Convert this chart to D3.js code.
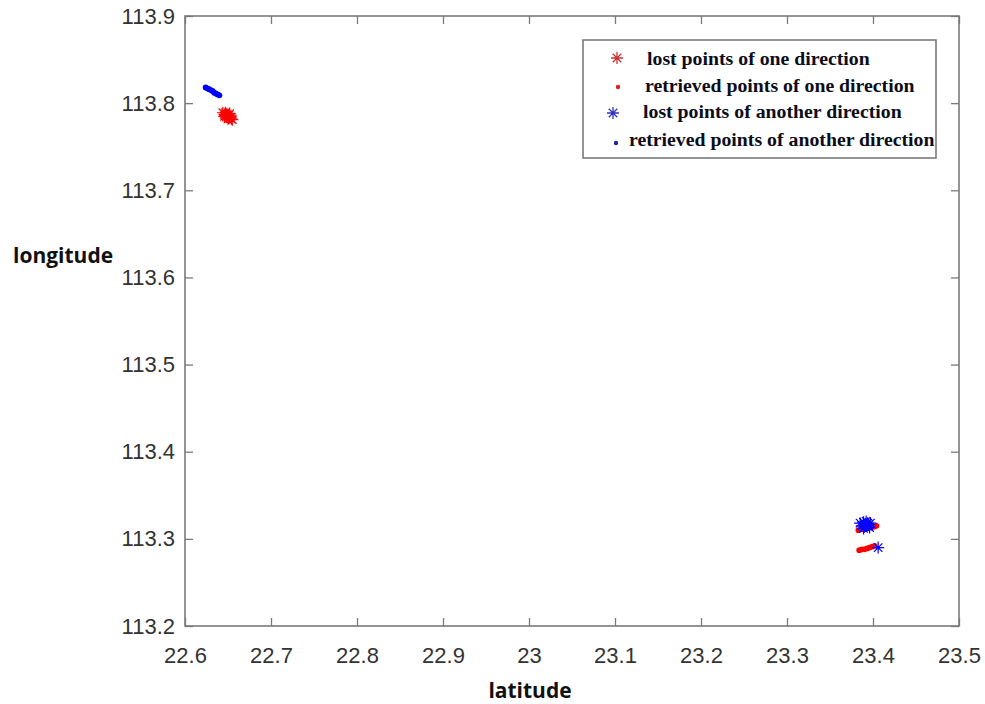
<!DOCTYPE html>
<html>
<head>
<meta charset="utf-8">
<script src="https://cdn.jsdelivr.net/npm/d3@7"></script>
<style>
  html, body { margin: 0; padding: 0; background: #fff; }
  svg { display: block; }
  .tick text { font-family: "Liberation Sans", Arial, sans-serif; font-size: 22px; fill: #333; }
  .legend-text { font-family: "Liberation Serif", "Times New Roman", serif; font-weight: bold; font-size: 19.8px; fill: #0d0d1a; }
  .axis-title { font-family: "Open Sans", sans-serif; font-weight: 700; font-size: 21px; fill: #111; }
</style>
</head>
<body>
<div id="chart"></div>
<script>
// ── data (latitude, longitude) ──────────────────────────────────────────────
const xTicks      = [22.6, 22.7, 22.8, 22.9, 23.0, 23.1, 23.2, 23.3, 23.4, 23.5];
const xTickLabels = ['22.6', '22.7', '22.8', '22.9', '23', '23.1', '23.2', '23.3', '23.4', '23.5'];
const yTicks      = [113.2, 113.3, 113.4, 113.5, 113.6, 113.7, 113.8, 113.9];
const yTickLabels = ['113.2', '113.3', '113.4', '113.5', '113.6', '113.7', '113.8', '113.9'];

// lost points of one direction (red *)
const lostOne = [
  [22.644, 113.789], [22.646, 113.787], [22.647, 113.789], [22.648, 113.786],
  [22.649, 113.787], [22.650, 113.785], [22.651, 113.786], [22.652, 113.783],
  [22.653, 113.784], [22.654, 113.782], [22.650, 113.782], [22.648, 113.784],
  [22.655, 113.781], [22.646, 113.785], [22.652, 113.788]
];
// retrieved points of one direction (red .)
const retrievedOne = [
  [22.646, 113.787], [22.649, 113.785], [22.652, 113.784],
  [23.383, 113.310], [23.386, 113.311], [23.389, 113.311], [23.392, 113.312],
  [23.395, 113.313], [23.398, 113.313], [23.401, 113.314], [23.404, 113.315],
  [23.384, 113.287], [23.387, 113.288], [23.390, 113.288], [23.393, 113.289],
  [23.396, 113.290], [23.399, 113.291], [23.402, 113.292]
];
// lost points of another direction (blue *)
const lostAnother = [
  [23.385, 113.318], [23.387, 113.315], [23.389, 113.319], [23.390, 113.314],
  [23.391, 113.317], [23.392, 113.320], [23.393, 113.315], [23.394, 113.318],
  [23.395, 113.316], [23.396, 113.313], [23.397, 113.318], [23.389, 113.312],
  [23.406, 113.290]
];
// retrieved points of another direction (blue .)
const retrievedAnother = [
  [22.624, 113.818], [22.626, 113.817], [22.628, 113.816], [22.630, 113.815],
  [22.632, 113.814], [22.634, 113.812], [22.636, 113.811], [22.638, 113.810],
  [22.640, 113.809]
];

const legendLabels = [
  'lost points of one direction',
  'retrieved points of one direction',
  'lost points of another direction',
  'retrieved points of another direction'
];

// ── layout ─────────────────────────────────────────────────────────────────
const W = 985, H = 704;
const M = { left: 185, right: 959, top: 16, bottom: 626 };
const TICK = 8;

const svg = d3.select('#chart').append('svg').attr('width', W).attr('height', H);

const x = d3.scaleLinear().domain([22.6, 23.5]).range([M.left, M.right]);
const y = d3.scaleLinear().domain([113.2, 113.9]).range([M.bottom, M.top]);

// axes
function styleAxis(g) {
  g.select('.domain').remove();
  g.selectAll('.tick line').attr('stroke', '#7a7a7a').attr('stroke-width', 1.3);
}

svg.append('g').attr('transform', `translate(0,${M.bottom})`)
  .call(d3.axisBottom(x).tickValues(xTicks).tickSize(-TICK).tickPadding(21)
    .tickFormat((d, i) => xTickLabels[i]))
  .call(styleAxis);

svg.append('g').attr('transform', `translate(0,${M.top})`)
  .call(d3.axisTop(x).tickValues(xTicks).tickSize(-TICK).tickFormat(''))
  .call(styleAxis);

svg.append('g').attr('transform', `translate(${M.left},0)`)
  .call(d3.axisLeft(y).tickValues(yTicks).tickSize(-TICK).tickPadding(10)
    .tickFormat((d, i) => yTickLabels[i]))
  .call(styleAxis);

svg.append('g').attr('transform', `translate(${M.right},0)`)
  .call(d3.axisRight(y).tickValues(yTicks).tickSize(-TICK).tickFormat(''))
  .call(styleAxis);

// box
svg.append('rect')
  .attr('x', M.left).attr('y', M.top)
  .attr('width', M.right - M.left).attr('height', M.bottom - M.top)
  .attr('fill', 'none').attr('stroke', '#7a7a7a').attr('stroke-width', 1.6);

// ── markers ────────────────────────────────────────────────────────────────
function starPath(r) {
  const d = r * Math.SQRT1_2;
  return `M${-r},0L${r},0M0,${-r}L0,${r}M${-d},${-d}L${d},${d}M${-d},${d}L${d},${-d}`;
}

const plot = svg.append('g');

function drawDots(data, color) {
  plot.append('g').selectAll('circle').data(data).enter().append('circle')
    .attr('cx', d => x(d[0])).attr('cy', d => y(d[1]))
    .attr('r', 2.9).attr('fill', color);
}
function drawStars(data, color) {
  plot.append('g').selectAll('path').data(data).enter().append('path')
    .attr('transform', d => `translate(${x(d[0])},${y(d[1])})`)
    .attr('d', starPath(6))
    .attr('fill', 'none').attr('stroke', color).attr('stroke-width', 1.2);
}

drawDots(retrievedOne, '#ff0000');
drawStars(lostOne, '#ff0000');
drawStars(lostAnother, '#0000ff');
drawDots(retrievedAnother, '#0000ff');

// ── legend ─────────────────────────────────────────────────────────────────
const lg = svg.append('g');
lg.append('rect')
  .attr('x', 583).attr('y', 40).attr('width', 353).attr('height', 118)
  .attr('fill', '#fff').attr('stroke', '#7a7a7a').attr('stroke-width', 1.6);

const legendItems = [
  { type: 'star', color: '#cc3333', mx: 617, my: 58, tx: 647, ty: 65 },
  { type: 'dot',  color: '#dd2222', mx: 618, my: 87, tx: 645, ty: 92 },
  { type: 'star', color: '#3333bb', mx: 613, my: 113, tx: 643, ty: 118 },
  { type: 'dot',  color: '#222299', mx: 616, my: 143, tx: 629, ty: 146 }
];

legendItems.forEach((it, i) => {
  if (it.type === 'star') {
    lg.append('path')
      .attr('transform', `translate(${it.mx},${it.my})`)
      .attr('d', starPath(6))
      .attr('fill', 'none').attr('stroke', it.color).attr('stroke-width', 1.3);
  } else {
    lg.append('circle').attr('cx', it.mx).attr('cy', it.my).attr('r', 2.2).attr('fill', it.color);
  }
  lg.append('text').attr('class', 'legend-text')
    .attr('x', it.tx).attr('y', it.ty)
    .text(legendLabels[i]);
});

// ── axis titles ────────────────────────────────────────────────────────────
svg.append('text').attr('class', 'axis-title')
  .attr('x', 13).attr('y', 263).text('longitude');

svg.append('text').attr('class', 'axis-title')
  .attr('x', 530).attr('y', 698).attr('text-anchor', 'middle').text('latitude');
</script>
</body>
</html>
